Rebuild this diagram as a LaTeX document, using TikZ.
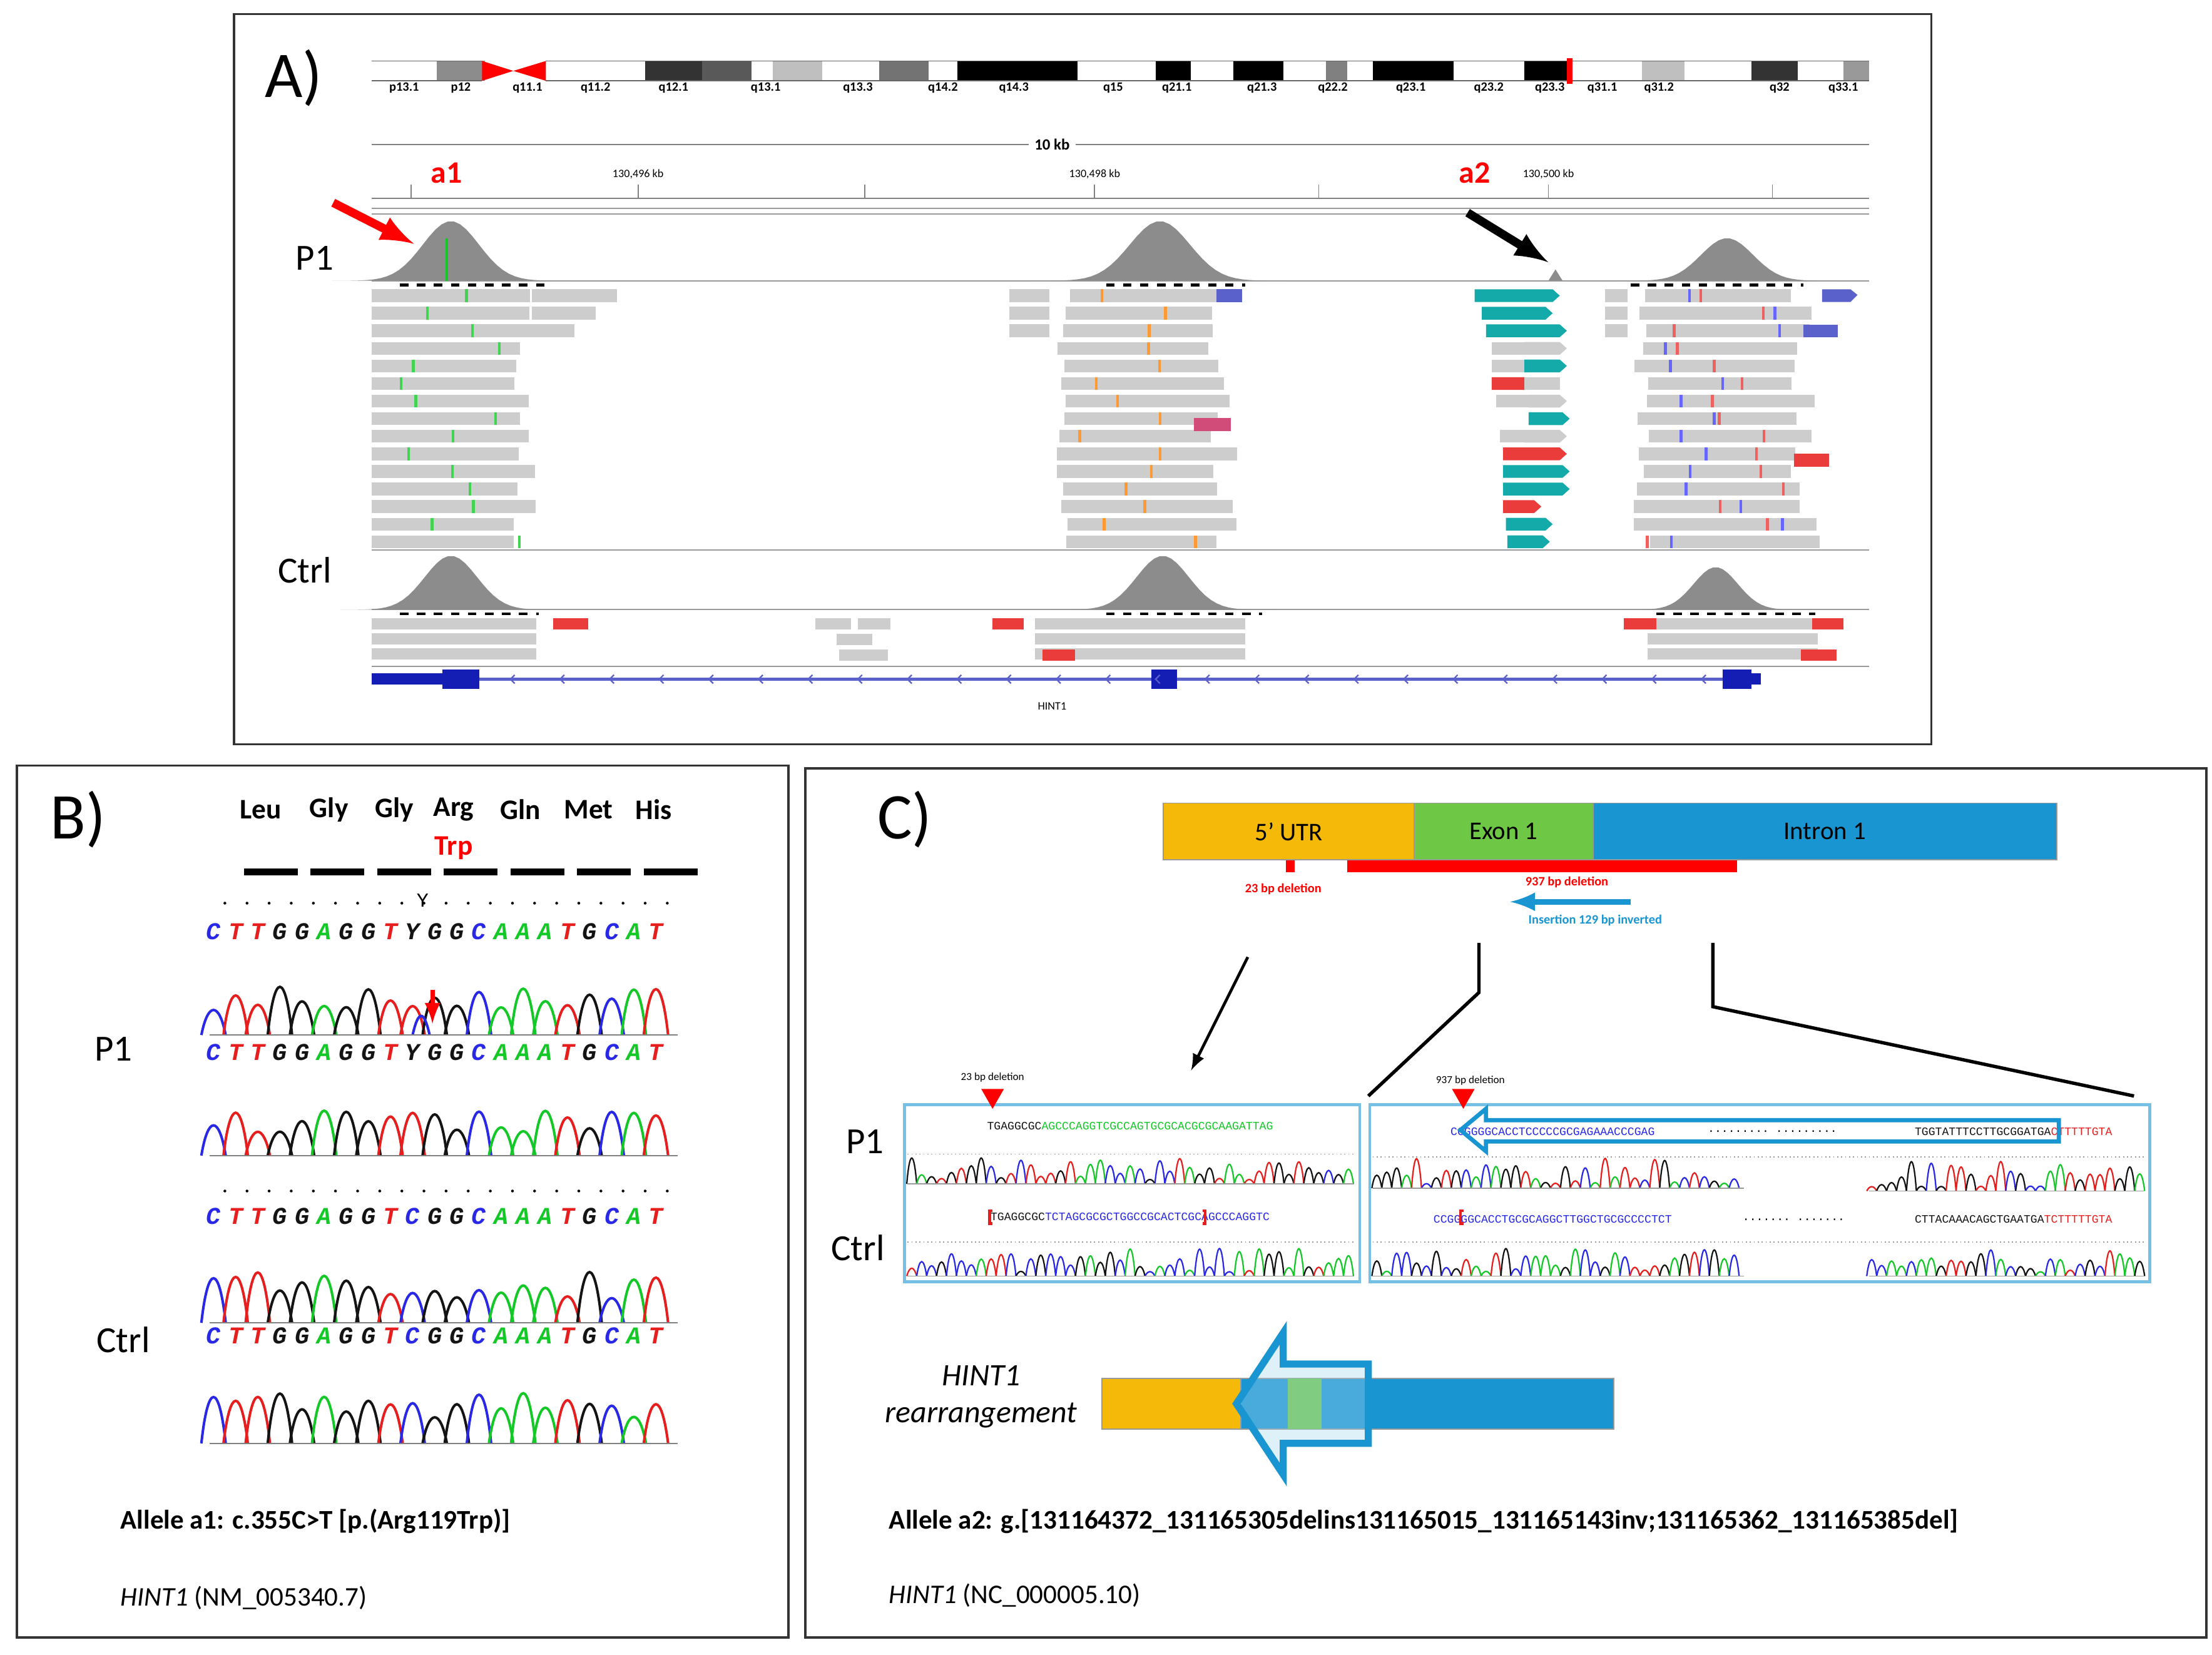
\documentclass[tikz,border=0pt]{standalone}
\usepackage{fontspec}
\setmainfont{Carlito}
\setmonofont{Liberation Mono}
\definecolor{bC}{RGB}{40,40,230}
\definecolor{bT}{RGB}{230,30,30}
\definecolor{bG}{RGB}{20,20,20}
\definecolor{bA}{RGB}{20,200,40}
\definecolor{bY}{RGB}{20,20,20}
\definecolor{readc}{RGB}{205,205,205}
\definecolor{teal1}{RGB}{20,170,170}
\definecolor{redr}{RGB}{235,60,60}
\definecolor{utr}{RGB}{245,185,10}
\definecolor{exon}{RGB}{110,200,70}
\definecolor{intron}{RGB}{25,150,210}
\definecolor{gblue}{RGB}{20,30,180}
\tikzset{panelbox/.style={draw=black!80,line width=0.8pt},
 lab/.style={font=\fontsize{13}{13}\selectfont},
 tiny/.style={font=\fontsize{3.5}{4}\selectfont,inner sep=0pt},
 seql/.style={font=\fontsize{8.5}{9}\ttfamily\bfseries\itshape,inner sep=0pt}}
\newcommand\mychrom[4]{% x0, baseline, spacing, seq
 \foreach \c [count=\i] in {#4}{%
  \pgfmathsetmacro\x{#1+#3*\i}\pgfmathsetmacro\h{22+26*rnd}%
  \draw[b\c,line width=0.9pt] (\x-#3*0.55,#2) .. controls (\x-#3*0.25,#2-\h) and (\x+#3*0.25,#2-\h) .. (\x+#3*0.55,#2);}}
\newcommand\myseq[4]{%
 \foreach \c [count=\i] in {#4}{\pgfmathsetmacro\x{#1+#3*\i}\node[seql,text=b\c] at (\x,#2) {\c};}}
\newcommand\randchrom[5]{% x0, x1, xend, baseline, maxh
 \foreach \x in {#1,#2,...,#3}{\pgfmathsetmacro\h{4+#5*rnd}\pgfmathtruncatemacro\k{4*rnd}%
  \ifcase\k\def\cc{bC}\or\def\cc{bT}\or\def\cc{bG}\else\def\cc{bA}\fi
  \draw[\cc,line width=0.5pt] (\x-3.5,#4) .. controls (\x-1.5,#4-\h) and (\x+1.5,#4-\h) .. (\x+3.5,#4);}}
\begin{document}
\begin{tikzpicture}[x=0.5pt,y=-0.5pt]
\pgfmathsetseed{11}
\useasboundingbox (0,0) rectangle (1560,1167);
\fill[white] (0,0) rectangle (1560,1167);
% ================= Panel A
\draw[panelbox] (165,10) rectangle (1362,525);
\node[font=\fontsize{23}{23}\selectfont] (Alab) at (207,55) {A)};
\foreach \a/\b/\col in {262/308/white,308/342/black!45,385/455/white,455/495/black!80,495/530/black!65,530/545/white,545/580/black!25,580/620/white,620/655/black!55,655/675/white,675/760/black,760/815/white,815/840/black,840/870/white,870/905/black,905/935/white,935/950/black!50,950/968/white,968/1025/black,1025/1075/white,1075/1105/black,1105/1158/white,1158/1188/black!25,1188/1235/white,1235/1268/black!80,1268/1300/white,1300/1318/black!40}
 {\fill[\col] (\a,43) rectangle (\b,57);}
\draw[black!60] (262,43) -- (340,43) (385,43) -- (1318,43) (262,57) -- (340,57) (385,57) -- (1318,57);
\fill[red] (340,43) -- (362,50) -- (340,57) -- cycle;
\fill[red] (385,43) -- (362,50) -- (385,57) -- cycle;
\fill[red] (1105,41) rectangle (1109,59);
\foreach \x/\t in {285/p13.1,325/p12,372/q11.1,420/q11.2,475/q12.1,540/q13.1,605/q13.3,665/q14.2,715/q14.3,785/q15,830/q21.1,890/q21.3,940/q22.2,995/q23.1,1050/q23.2,1093/q23.3,1130/q31.1,1170/q31.2,1255/q32,1300/q33.1}
 \node[tiny,font=\fontsize{4.5}{5}\selectfont\bfseries] at (\x,62) {\t};
\draw[black!50] (262,102) -- (1318,102);
\node[fill=white,font=\fontsize{5.5}{6}\selectfont\bfseries,inner sep=2pt] at (742,102) {10 kb};
\draw[black!50] (262,140) -- (1318,140);
\foreach \x in {290,450,610,772,930,1092,1250} \draw[black!50] (\x,140) -- (\x,130);
\node[tiny,font=\fontsize{4}{4}\selectfont] at (450,123) {130,496 kb};
\node[tiny,font=\fontsize{4}{4}\selectfont] at (772,123) {130,498 kb};
\node[tiny,font=\fontsize{4}{4}\selectfont] at (1092,123) {130,500 kb};
\node[font=\fontsize{11}{11}\selectfont\bfseries,text=red] at (315,122) {a1};
\node[font=\fontsize{11}{11}\selectfont\bfseries,text=red] at (1040,122) {a2};
\draw[black!40] (262,147) -- (1318,147) (262,151) -- (1318,151) (262,198) -- (1318,198);
% coverage P1
\foreach \c/\w/\h in {318/28/42,818/30/42,1218/26/30}
 \fill[black!45] plot[domain=\c-3*\w:\c+3*\w,samples=40] (\x,{198-\h*exp(-((\x-\c)/\w)^2)});
\fill[black!45] (1092,198) -- (1097,190) -- (1102,198) -- cycle;
\fill[bA] (314,168) rectangle (316,198);
\foreach \a/\b in {282/388,780/878,1150/1272} \draw[dashed,line width=1pt] (\a,201) -- (\b,201);
\node[lab] (P1a) at (222,182) {P1};
\draw[-latex,red,line width=3pt] (235,143) -- (292,172);
\draw[-latex,black,line width=3pt] (1035,150) -- (1092,185);
% reads P1
\foreach \r in {0,...,14}{
 \pgfmathsetmacro\y{204+\r*12.4}
 \pgfmathsetmacro\eA{362+18*rnd}
 \fill[readc] (262,\y) rectangle (\eA,\y+9);
 \pgfmathsetmacro\sB{745+10*rnd}\pgfmathsetmacro\eB{850+28*rnd}
 \fill[readc] (\sB,\y) rectangle (\eB,\y+9);
 \pgfmathsetmacro\sD{1152+12*rnd}\pgfmathsetmacro\eD{1262+22*rnd}
 \fill[readc] (\sD,\y) rectangle (\eD,\y+9);
 \pgfmathsetmacro\cx{270+100*rnd}\fill[bA!80] (\cx,\y) rectangle (\cx+2,\y+9);
 \pgfmathsetmacro\cx{760+90*rnd}\fill[orange!80] (\cx,\y) rectangle (\cx+2,\y+9);
 \pgfmathsetmacro\cx{1160+100*rnd}\fill[bT!70] (\cx,\y) rectangle (\cx+2,\y+9);
 \pgfmathsetmacro\cx{1160+100*rnd}\fill[blue!60] (\cx,\y) rectangle (\cx+2,\y+9);
}
\foreach \r in {0,...,2}{\pgfmathsetmacro\y{204+\r*12.4}\pgfmathsetmacro\ee{405+15*(2-\r)}
 \fill[readc] (375,\y) rectangle (\ee,\y+9);
 \fill[readc] (712,\y) rectangle (740,\y+9);
 \fill[readc] (1132,\y) rectangle (1148,\y+9);}
\fill[gblue!70] (858,204) rectangle (876,213);
\fill[gblue!70] (1285,204) -- (1305,204) -- (1310,208) -- (1305,213) -- (1285,213) -- cycle;
\fill[gblue!70] (1272,229) rectangle (1296,238);
\fill[purple!70] (842,295) rectangle (868,304);
\fill[redr] (1265,320) rectangle (1290,329);
% group 3
\foreach \r/\a/\b/\col in {0/1040/1095/teal1,1/1045/1090/teal1,2/1048/1100/teal1,3/1075/1100/readc,4/1075/1100/teal1,5/1052/1075/redr,6/1078/1100/readc,7/1078/1102/teal1,8/1075/1100/readc,9/1060/1100/redr,10/1060/1102/teal1,11/1060/1102/teal1,12/1060/1082/redr,13/1062/1090/teal1,14/1063/1088/teal1}{
 \pgfmathsetmacro\y{204+\r*12.4}
 \fill[\col] (\a,\y) -- (\b,\y) -- (\b+5,\y+4.5) -- (\b,\y+9) -- (\a,\y+9) -- cycle;}
\foreach \r/\a/\b in {3/1052/1075,4/1052/1075,5/1075/1100,6/1055/1078,8/1058/1075}{\pgfmathsetmacro\y{204+\r*12.4}\fill[readc] (\a,\y) rectangle (\b,\y+9);}
% Ctrl
\draw[black!40] (262,388) -- (1318,388) (262,430) -- (1318,430);
\node[lab] (Ctrla) at (215,402) {Ctrl};
\foreach \c/\w/\h in {318/26/38,820/26/38,1210/22/30}
 \fill[black!45] plot[domain=\c-3*\w:\c+3*\w,samples=40] (\x,{430-\h*exp(-((\x-\c)/\w)^2)});
\foreach \a/\b in {282/380,780/890,1168/1280} \draw[dashed,line width=1pt] (\a,433) -- (\b,433);
\foreach \r in {0,1,2}{\pgfmathsetmacro\y{436+\r*10.5}
 \fill[readc] (262,\y) rectangle (378,\y+8);
 \fill[readc] (730,\y) rectangle (878,\y+8);
 \fill[readc] (1162,\y) rectangle (1282,\y+8);}
\fill[readc] (575,436) rectangle (600,444); \fill[readc] (605,436) rectangle (628,444);
\fill[readc] (590,447) rectangle (615,455); \fill[readc] (592,458) rectangle (626,466);
\fill[redr] (390,436) rectangle (415,444); \fill[redr] (700,436) rectangle (722,444);
\fill[redr] (1145,436) rectangle (1168,444); \fill[redr] (1278,436) rectangle (1300,444);
\fill[redr] (735,458) rectangle (758,466); \fill[redr] (1270,458) rectangle (1295,466);
\draw[black!40] (262,470) -- (1318,470);
% gene
\draw[gblue!70,line width=1pt] (262,479) -- (1240,479);
\fill[gblue] (262,475) rectangle (312,483);
\fill[gblue] (312,472) rectangle (338,486);
\fill[gblue] (812,472) rectangle (830,486);
\fill[gblue] (1215,472) rectangle (1235,486);
\fill[gblue] (1235,475) rectangle (1242,483);
\foreach \x in {360,395,...,1200} \draw[gblue!70,line width=0.5pt] (\x+3,476) -- (\x,479) -- (\x+3,482);
\node[tiny,font=\fontsize{4}{4}\selectfont] at (742,498) {HINT1};
% ================= Panel B
\draw[panelbox] (12,540) rectangle (556,1155);
\node[font=\fontsize{23}{23}\selectfont] (Blab) at (55,578) {B)};
\foreach \x/\t in {184/Leu,232/Gly,278/Gly,320/Arg,367/Gln,415/Met,461/His}
 \node[font=\fontsize{10}{10}\selectfont\bfseries] at (\x,571) {\t};
\node[font=\fontsize{10}{10}\selectfont\bfseries,text=red] at (320,598) {Trp};
\foreach \i in {0,...,6} \draw[line width=2.5pt] (172+\i*47,615) -- (210+\i*47,615);
\foreach \y in {637,840} \foreach \i in {1,...,21} \fill (143+\i*15.6,\y) circle (1);
\node[font=\fontsize{7}{7}\ttfamily] at (298,635) {Y};
\myseq{135}{657}{15.6}{C,T,T,G,G,A,G,G,T,Y,G,G,C,A,A,A,T,G,C,A,T}
\mychrom{135}{730}{15.6}{C,T,T,G,G,A,G,G,T,T,G,G,C,A,A,A,T,G,C,A,T}
\draw[bC,line width=0.9pt] (291,730) .. controls (295,712) and (299,712) .. (303,730);
\myseq{135}{742}{15.6}{C,T,T,G,G,A,G,G,T,Y,G,G,C,A,A,A,T,G,C,A,T}
\mychrom{135}{815}{15.6}{C,T,T,G,G,A,G,G,T,T,G,G,C,A,A,A,T,G,C,A,T}
\myseq{135}{858}{15.6}{C,T,T,G,G,A,G,G,T,C,G,G,C,A,A,A,T,G,C,A,T}
\mychrom{135}{933}{15.6}{C,T,T,G,G,A,G,G,T,C,G,G,C,A,A,A,T,G,C,A,T}
\myseq{135}{942}{15.6}{C,T,T,G,G,A,G,G,T,C,G,G,C,A,A,A,T,G,C,A,T}
\mychrom{135}{1018}{15.6}{C,T,T,G,G,A,G,G,T,C,G,G,C,A,A,A,T,G,C,A,T}
\foreach \y in {730,815,933,1018} \draw[black!50] (148,\y) -- (478,\y);
\draw[-latex,red,line width=1.5pt] (305,698) -- (305,722);
\node[lab] (P1b) at (80,740) {P1};
\node[lab] (Ctrlb) at (87,945) {Ctrl};
\node[anchor=west,font=\fontsize{9.5}{10}\selectfont\bfseries] at (78,1073) {Allele a1: c.355C>T [p.(Arg119Trp)]};
\node[anchor=west,font=\fontsize{9.5}{10}\selectfont] at (78,1127) {\textit{HINT1} (NM\_005340.7)};
% ================= Panel C
\draw[panelbox] (568,542) rectangle (1556,1155);
\node[font=\fontsize{23}{23}\selectfont] (Clab) at (638,578) {C)};
\node[draw=black!40,fill=utr,minimum width=88.5pt,minimum height=20pt,inner sep=0pt,anchor=north west,font=\fontsize{9}{9}\selectfont] (utr) at (820,566) {5’ UTR};
\node[draw=black!40,fill=exon,minimum width=63pt,minimum height=20pt,inner sep=0pt,anchor=north west,font=\fontsize{9}{9}\selectfont] (ex1) at (997,566) {Exon 1};
\node[draw=black!40,fill=intron,minimum width=163.5pt,minimum height=20pt,inner sep=0pt,anchor=north west,font=\fontsize{9}{9}\selectfont] (in1) at (1123,566) {Intron 1};
\fill[red] (907,607) rectangle (913,615);
\fill[red] (950,607) rectangle (1225,615);
\node[tiny,font=\fontsize{4.5}{5}\selectfont\bfseries,text=red] at (905,627) {23 bp deletion};
\node[tiny,font=\fontsize{4.5}{5}\selectfont\bfseries,text=red] at (1105,622) {937 bp deletion};
\draw[-latex,intron,line width=2pt] (1150,636) -- (1065,636);
\node[tiny,font=\fontsize{4.5}{5}\selectfont\bfseries,text=intron] at (1125,649) {Insertion 129 bp inverted};
\draw[-latex,line width=1pt] (880,675) -- (840,755);
\draw[line width=1.2pt] (1043,665) -- (1043,700) -- (965,773);
\draw[line width=1.2pt] (1208,665) -- (1208,710) -- (1505,773);
\node[draw=intron!60,line width=1pt,minimum width=160.5pt,minimum height=62.5pt,anchor=north west,inner sep=0pt] (boxL) at (637,778) {};
\node[draw=intron!60,line width=1pt,minimum width=275pt,minimum height=62.5pt,anchor=north west,inner sep=0pt] (boxR) at (965,778) {};
\node[tiny,font=\fontsize{4}{4}\ttfamily] at (797,794) {\textcolor{bG}{TGAGGCGC}\textcolor{bA}{AGCCCAGGTCGCCAGTGCGCACGCGCAAGATTAG}};
\node[tiny,font=\fontsize{4}{4}\ttfamily] at (797,858) {\textcolor{bG}{TGAGGCGC}\textcolor{bC}{TCTAGCGCGCTGGCCGCACTCGCAGCCCAGGTC}};
\node[tiny,font=\fontsize{4}{4}\ttfamily] at (1095,798) {\textcolor{bC}{CCGGGGCA}\textcolor{bC}{CCTCCCCCGCGAGAAACCCGAG}};
\node[tiny,font=\fontsize{4}{4}\ttfamily] at (1250,798) {......... .........};
\node[tiny,font=\fontsize{4}{4}\ttfamily] at (1420,798) {\textcolor{bG}{TGGTATTTCCTTGCGGATGA}\textcolor{bT}{CTTTTTGTA}};
\node[tiny,font=\fontsize{4}{4}\ttfamily] at (1095,860) {\textcolor{bC}{CCGGGGCACCTGCGCAGGCTTGGCTGCGCCCCTCT}};
\node[tiny,font=\fontsize{4}{4}\ttfamily] at (1265,860) {....... .......};
\node[tiny,font=\fontsize{4}{4}\ttfamily] at (1420,860) {\textcolor{bG}{CTTACAAACAGCTGAATGA}\textcolor{bT}{TCTTTTTGTA}};
\foreach \y in {814,876} \draw[black!40,densely dotted] (640,\y) -- (955,\y);
\foreach \y in {816,876} \draw[black!40,densely dotted] (968,\y) -- (1512,\y);
\randchrom{643}{650}{953}{835}{22}
\randchrom{643}{650}{953}{900}{22}
\randchrom{971}{978}{1228}{838}{24}
\randchrom{1320}{1327}{1512}{840}{24}
\randchrom{971}{978}{1228}{900}{22}
\randchrom{1320}{1327}{1512}{900}{22}
\draw[black!40] (640,835) -- (955,835) (640,900) -- (955,900) (968,838) -- (1230,838) (1318,840) -- (1512,840) (968,900) -- (1230,900) (1318,900) -- (1512,900);
\fill[red] (692,768) -- (708,768) -- (700,782) -- cycle;
\fill[red] (1024,768) -- (1040,768) -- (1032,782) -- cycle;
\node[tiny,font=\fontsize{3.8}{4}\selectfont] at (700,760) {23 bp deletion};
\node[tiny,font=\fontsize{3.8}{4}\selectfont] at (1037,762) {937 bp deletion};
\draw[bT,line width=1pt] (700,854) -- (698,854) -- (698,863) -- (700,863) (848,854) -- (850,854) -- (850,863) -- (848,863) (1032,854) -- (1030,854) -- (1030,863) -- (1032,863);
\draw[intron,line width=1.5pt] (1452,790) -- (1452,805) -- (1048,805) -- (1048,812) -- (1030,797) -- (1048,782) -- (1048,790) -- cycle;
\node[lab] (P1c) at (610,805) {P1};
\node[lab] (Ctrlc) at (605,880) {Ctrl};
% rearrangement
\fill[utr,draw=black!40] (777,972) rectangle (875,1008);
\fill[intron,draw=black!40] (875,972) rectangle (1138,1008);
\fill[exon] (908,972) rectangle (932,1008);
\draw[intron,line width=2.5pt,fill=intron!40,fill opacity=0.35] (872,990) -- (905,940) -- (905,962) -- (965,962) -- (965,1018) -- (905,1018) -- (905,1040) -- cycle;
\node[font=\fontsize{11}{11}\selectfont\itshape] at (692,970) {HINT1};
\node[font=\fontsize{11}{11}\selectfont\itshape] at (692,998) {rearrangement};
\node[anchor=west,font=\fontsize{9.5}{10}\selectfont\bfseries] at (620,1073) {Allele a2: g.[131164372\_131165305delins131165015\_131165143inv;131165362\_131165385del]};
\node[anchor=west,font=\fontsize{9.5}{10}\selectfont] at (620,1125) {\textit{HINT1} (NC\_000005.10)};
\end{tikzpicture}
\end{document}
